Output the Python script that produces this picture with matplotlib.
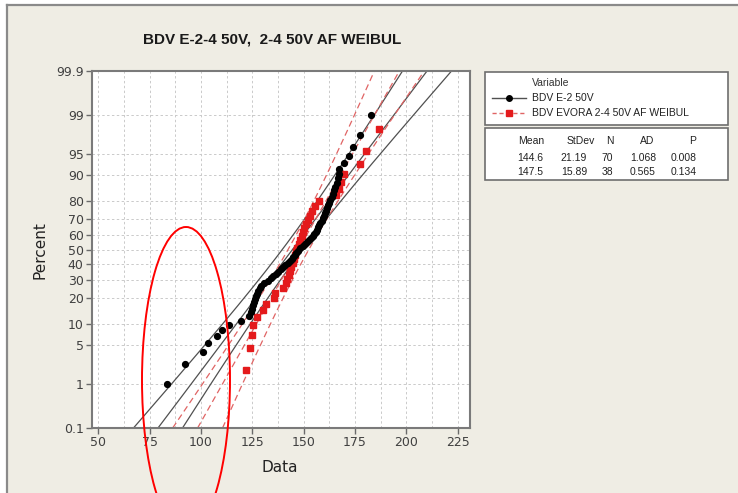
import numpy as np
import matplotlib
matplotlib.use("Agg")
import matplotlib.pyplot as plt
from matplotlib.patches import Rectangle, Ellipse
from matplotlib.lines import Line2D
from statistics import NormalDist

# ---- data -------------------------------------------------------------
e2_values = [83.5, 92.4, 101.0, 103.5, 107.9, 110.3, 113.6, 119.3, 123.5, 124.3,
             124.8, 125.3, 125.8, 126.3, 126.8, 127.4, 128.0, 128.7, 129.4, 130.5,
             132.5, 134.0, 135.3, 136.5, 137.7, 139.0, 140.0, 141.0, 142.5, 143.5,
             144.3, 145.0, 145.8, 146.5, 147.3, 148.3, 149.5, 150.5, 151.5, 152.5,
             153.5, 154.5, 155.2, 155.8, 156.4, 157.0, 157.6, 158.2, 158.8, 159.3,
             159.8, 160.3, 160.8, 161.3, 161.8, 162.4, 163.0, 163.6, 164.2, 164.8,
             165.5, 166.2, 166.7, 167.0, 167.3, 169.7, 172.1, 174.2, 177.5, 182.7]
evora_values = [122.2, 124.1, 125.0, 125.3, 127.4, 130.0, 131.5, 135.5, 136.3, 140.2,
                141.2, 142.0, 142.8, 143.4, 144.0, 144.6, 145.2, 145.8, 146.4, 147.0,
                147.6, 148.3, 149.0, 149.6, 150.3, 151.0, 152.0, 153.0, 154.2, 155.5,
                157.5, 166.0, 167.0, 168.0, 169.5, 177.5, 180.2, 186.7]

series_names = ["BDV E-2 50V", "BDV EVORA 2-4 50V AF WEIBUL"]
means = [144.6, 147.5]
stdevs = [21.19, 15.89]
counts = [70, 38]
ad_values = ["1.068", "0.565"]
p_values = ["0.008", "0.134"]

x_ticks = [50, 75, 100, 125, 150, 175, 200, 225]
pct_ticks = [0.1, 1, 5, 10, 20, 30, 40, 50, 60, 70, 80, 90, 95, 99, 99.9]
pct_labels = ["0.1", "1", "5", "10", "20", "30", "40", "50", "60", "70",
              "80", "90", "95", "99", "99.9"]

title = "BDV E-2-4 50V,  2-4 50V AF WEIBUL"

# ---- helpers ----------------------------------------------------------
nd = NormalDist()


def z_of(pct):
    return nd.inv_cdf(pct / 100.0)


def median_ranks(n):
    i = np.arange(1, n + 1)
    return (i - 0.3) / (n + 0.4) * 100.0


W, H = 738, 493
fig = plt.figure(figsize=(W / 100, H / 100), dpi=100, facecolor="white")

BEIGE = "#EFEDE4"
FRAME = "#8A8A8A"

# window panel
fig.patches.append(Rectangle((7 / W, 0), 1, 1 - 5 / H, transform=fig.transFigure,
                             facecolor=BEIGE, edgecolor="none", zorder=-5))
fig.lines.append(Line2D([7 / W, 1], [1 - 5 / H, 1 - 5 / H], transform=fig.transFigure,
                        color=FRAME, lw=1.6, zorder=-4))
fig.lines.append(Line2D([7 / W, 7 / W], [0, 1 - 5 / H], transform=fig.transFigure,
                        color=FRAME, lw=1.6, zorder=-4))

ax = fig.add_axes([92 / W, 1 - 428 / H, (470 - 92) / W, (428 - 71) / H])
ax.set_zorder(2)
ax.set_facecolor("white")

zlo, zhi = z_of(0.1), z_of(99.9)
ax.set_ylim(zlo, zhi)
ax.set_xlim(47.0, 231.0)

# grid
for gx in np.arange(50, 226, 12.5):
    ax.axvline(gx, color="#CACACA", lw=0.7, ls=(0, (2.5, 2.5)), zorder=1)
for p in pct_ticks[1:-1]:
    ax.axhline(z_of(p), color="#CACACA", lw=0.7, ls=(0, (2.5, 2.5)), zorder=1)

# fitted lines with 95% bands
zz = np.linspace(zlo, zhi, 200)
styles = [dict(color="#505050", lw=0.9, ls="-"),
          dict(color="#E06464", lw=0.9, ls=(0, (5, 3)))]
for m, s, n, st in zip(means, stdevs, counts, styles):
    fit = m + s * zz
    half = 1.96 * s * np.sqrt((1 + zz ** 2 / 2) / n)
    for xs in (fit, fit - half, fit + half):
        ax.plot(xs, zz, zorder=2, **st)

# data points
ax.plot(e2_values, [z_of(p) for p in median_ranks(len(e2_values))],
        ls="none", marker="o", ms=4.2, color="black", zorder=4)
ax.plot(evora_values, [z_of(p) for p in median_ranks(len(evora_values))],
        ls="none", marker="s", ms=4.2, color="#E41A1C", zorder=3)

ax.set_xticks(x_ticks)
ax.set_yticks([z_of(p) for p in pct_ticks])
ax.set_yticklabels(pct_labels)
ax.tick_params(axis="both", direction="out", length=4, width=1, color="#6A6A6A",
               labelsize=9, labelcolor="#404040", pad=2)
for sp in ax.spines.values():
    sp.set_color("#7A7A7A")
    sp.set_linewidth(1.5)

fig.text(272 / W, 1 - 40 / H, title, ha="center", va="center",
         fontsize=11, fontweight="bold", family="Liberation Sans", color="#1A1A1A")
fig.text(280 / W, 1 - 467 / H, "Data", ha="center", va="center",
         fontsize=11, color="#222222")
fig.text(40 / W, 1 - 250 / H, "Percent", ha="center", va="center", rotation=90,
         fontsize=11, color="#222222")

# legend box
fig.patches.append(Rectangle((485 / W, 1 - 125 / H), (728 - 485) / W, (125 - 72) / H,
                             transform=fig.transFigure, facecolor="white",
                             edgecolor="#6E6E6E", lw=1.2))
fs = 7.5
fig.text(532 / W, 1 - 83 / H, "Variable", fontsize=fs, va="center",
         family="Liberation Sans", color="#333333")
rows = [(98, "black", "-", "o", "#505050"), (113, "#E41A1C", (0, (3, 2)), "s", "#E06464")]
for (yy, mc, ls, mk, lc), name in zip(rows, series_names):
    fig.lines.append(Line2D([492 / W, 526 / W], [1 - yy / H] * 2, transform=fig.transFigure,
                            color=lc, lw=1.0, ls=ls))
    fig.lines.append(Line2D([509 / W], [1 - yy / H], transform=fig.transFigure,
                            marker=mk, ms=4, color=mc, ls="none"))
    fig.text(532 / W, 1 - yy / H, name, fontsize=fs, va="center",
             family="Liberation Sans", color="#222222")

# statistics table
fig.patches.append(Rectangle((485 / W, 1 - 180 / H), (728 - 485) / W, (180 - 128) / H,
                             transform=fig.transFigure, facecolor="white",
                             edgecolor="#6E6E6E", lw=1.2))
headers = ["Mean", "StDev", "N", "AD", "P"]
hx = [531, 581, 610, 647, 693]
vx = [530, 574, 607, 643, 684]
for h, x in zip(headers, hx):
    fig.text(x / W, 1 - 141 / H, h, fontsize=fs, ha="center", va="center",
             family="Liberation Sans", color="#222222")
for r, yy in enumerate([158, 172]):
    vals = [f"{means[r]:.1f}", f"{stdevs[r]:.2f}", str(counts[r]), ad_values[r], p_values[r]]
    for v, x in zip(vals, vx):
        fig.text(x / W, 1 - yy / H, v, fontsize=fs, ha="center", va="center",
                 family="Liberation Sans", color="#222222")

# highlight ring around the low-end values
fig.patches.append(Ellipse((186 / W, 1 - 380 / H), 88 / W, 306 / H,
                           transform=fig.transFigure, fill=False,
                           edgecolor="#FF0000", lw=1.4, zorder=10))

fig.savefig("out.png", dpi=100, facecolor=fig.get_facecolor())
